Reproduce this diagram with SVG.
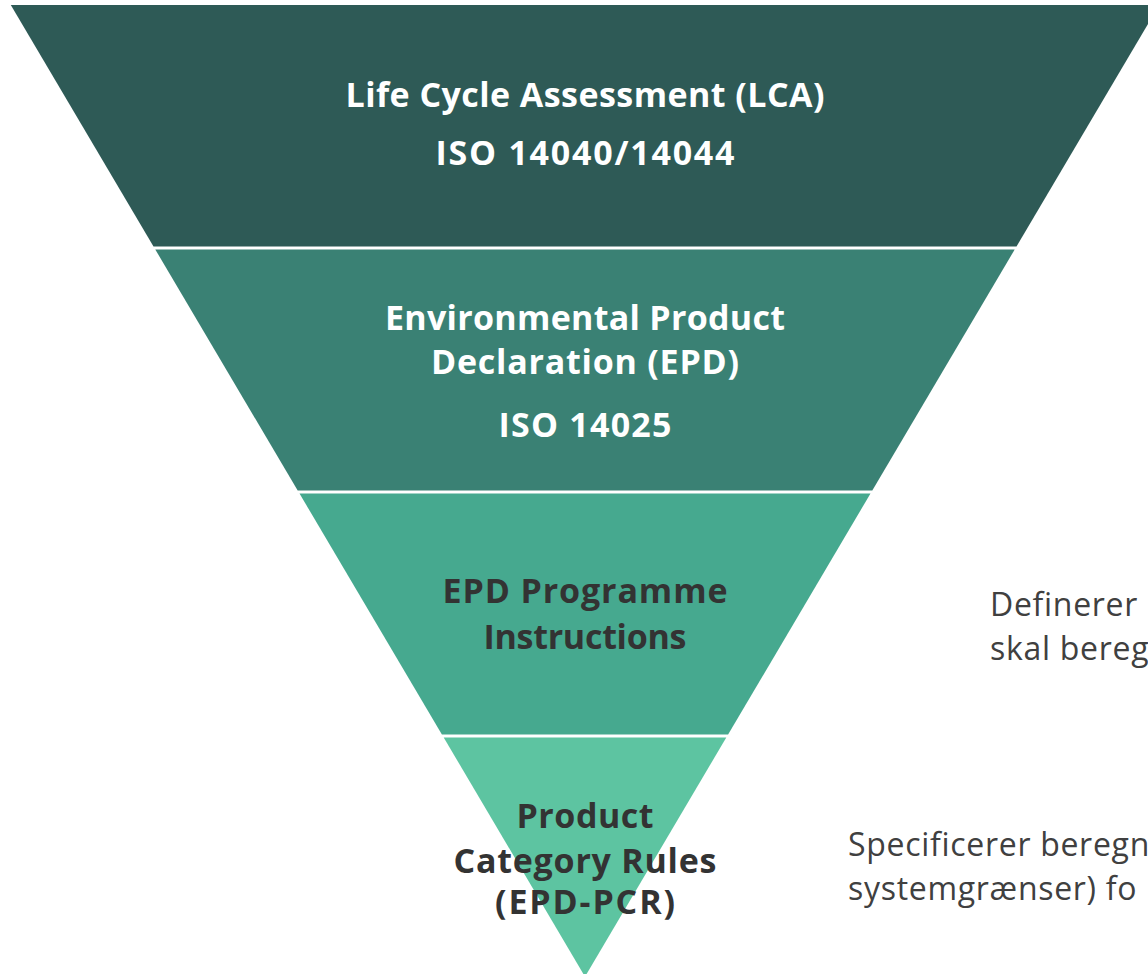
<svg xmlns="http://www.w3.org/2000/svg" width="1148" height="974" viewBox="0 0 1148 974">
  <style>
    .t { font-family: "Open Sans", "Noto Sans", "DejaVu Sans", sans-serif; font-weight: 700; font-size: 34px; text-anchor: middle; }
    .w { fill: #ffffff; }
    .d { fill: #333333; }
    .side { font-family: "Open Sans", "Noto Sans", "DejaVu Sans", sans-serif; font-weight: 400; font-size: 32px; letter-spacing: 0.7px; fill: #404040; }
  </style>
  <rect x="0" y="0" width="1148" height="974" fill="#ffffff"/>
  <g id="connectors"></g>
  <g id="band-lca">
    <polygon points="10.8,5 1159.2,5 1016.5,246.5 153.5,246.5" fill="#2E5A56"/>
    <text class="t w" x="585" y="107" textLength="479">Life Cycle Assessment (LCA)</text>
    <text class="t w" x="585" y="165" textLength="299">ISO 14040/14044</text>
  </g>
  <g id="band-epd">
    <polygon points="155.3,249.5 1014.7,249.5 872.3,490.5 297.7,490.5" fill="#3A8174"/>
    <text class="t w" x="585" y="330" textLength="400">Environmental Product</text>
    <text class="t w" x="585" y="374" textLength="308">Declaration (EPD)</text>
    <text class="t w" x="585" y="437" textLength="173">ISO 14025</text>
  </g>
  <g id="band-programme">
    <polygon points="299.5,493.5 870.5,493.5 728.1,734.5 441.9,734.5" fill="#46A98F"/>
    <text class="t d" x="585" y="603" textLength="285">EPD Programme</text>
    <text class="t d" x="585" y="649" textLength="203">Instructions</text>
  </g>
  <g id="band-pcr">
    <polygon points="443.7,737.5 726.3,737.5 585,976.7" fill="#5DC4A1"/>
    <text class="t d" x="585" y="828" textLength="137">Product</text>
    <text class="t d" x="585" y="873" textLength="263">Category Rules</text>
    <text class="t d" x="585" y="914" textLength="180">(EPD-PCR)</text>
  </g>
  <g id="note-programme">
    <text class="side" x="990" y="616">Definerer</text>
    <text class="side" x="990" y="660">skal bereg</text>
  </g>
  <g id="note-pcr">
    <text class="side" x="848" y="856">Specificerer beregn</text>
    <text class="side" x="848" y="900">systemgrænser) fo</text>
  </g>
</svg>
